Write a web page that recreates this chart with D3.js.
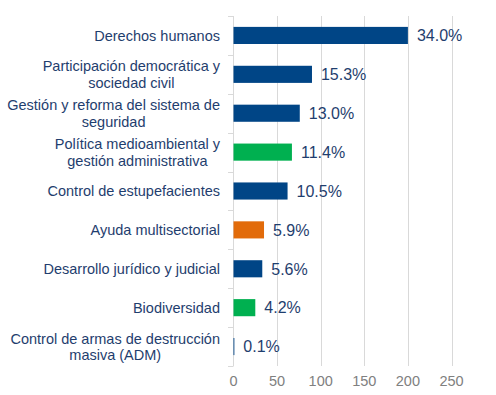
<!DOCTYPE html>
<html>
<head>
<meta charset="utf-8">
<script src="https://cdn.jsdelivr.net/npm/d3@7"></script>
<style>
  html, body { margin: 0; padding: 0; background: #fff; }
  svg { display: block; font-family: "Liberation Sans", Arial, sans-serif; }
</style>
</head>
<body>
<svg id="chart" width="496" height="395"></svg>
<script>
const categories = [
  ["Derechos humanos"],
  ["Participación democrática y", "sociedad civil"],
  ["Gestión y reforma del sistema de", "seguridad"],
  ["Política medioambiental y", "gestión administrativa"],
  ["Control de estupefacientes"],
  ["Ayuda multisectorial"],
  ["Desarrollo jurídico y judicial"],
  ["Biodiversidad"],
  ["Control de armas de destrucción", "masiva (ADM)"]
];
const values = [200, 90, 76, 67, 62, 35, 33, 25, 1];
const valueLabels = ["34.0%", "15.3%", "13.0%", "11.4%", "10.5%", "5.9%", "5.6%", "4.2%", "0.1%"];
const groups = ["blue", "blue", "blue", "green", "blue", "orange", "blue", "green", "blue"];
const xTicks = [0, 50, 100, 150, 200, 250];

(function () {
const colors = { blue: "#004586", green: "#00b050", orange: "#e26b0a" };
const textColor = "#1f3e6e";

const svg = d3.select("#chart");
const pLeft = 233.5, pRight = 451.5, pTop = 16, pBottom = 366;

const x = d3.scaleLinear().domain([0, 250]).range([pLeft, pRight]);
const y = d3.scaleBand().domain(d3.range(categories.length)).range([pTop, pBottom]).paddingInner(0.56).paddingOuter(0.28);
const band = d3.scaleBand().domain(d3.range(categories.length)).range([pTop, pBottom]);

// gridlines
svg.append("g").selectAll("line").data(xTicks.slice(1)).join("line")
  .attr("x1", d => Math.round(x(d)) + 0.5).attr("x2", d => Math.round(x(d)) + 0.5)
  .attr("y1", pTop).attr("y2", pBottom)
  .attr("stroke", "#d9d9d9").attr("stroke-width", 1);

// x tick labels
svg.append("g").selectAll("text").data(xTicks).join("text")
  .attr("x", d => x(d)).attr("y", 385.5)
  .attr("text-anchor", "middle")
  .attr("font-size", "14.5px").attr("fill", "#808080")
  .text(d => d);

// y axis line and category ticks
svg.append("line").attr("x1", pLeft).attr("x2", pLeft).attr("y1", pTop).attr("y2", pBottom)
  .attr("stroke", "#d9d9d9");
const bounds = d3.range(categories.length + 1).map(i => pTop + i * band.step());
svg.append("g").selectAll("line").data(bounds).join("line")
  .attr("x1", pLeft - 5.5).attr("x2", pLeft)
  .attr("y1", d => Math.round(d) + 0.5).attr("y2", d => Math.round(d) + 0.5)
  .attr("stroke", "#d9d9d9");

// bars
svg.append("g").selectAll("rect").data(values).join("rect")
  .attr("x", x(0))
  .attr("y", (d, i) => y(i))
  .attr("width", d => x(d) - x(0))
  .attr("height", y.bandwidth())
  .attr("fill", (d, i) => colors[groups[i]]);

// value labels
svg.append("g").selectAll("text").data(values).join("text")
  .attr("x", d => x(d) + 9)
  .attr("y", (d, i) => band(i) + band.bandwidth() / 2)
  .attr("dy", "0.36em")
  .attr("font-size", "16px").attr("fill", textColor)
  .text((d, i) => valueLabels[i]);

// category labels
const labelRight = 220;
const lineH = 16.5;
categories.forEach((lines, i) => {
  const cy = band(i) + band.bandwidth() / 2;
  const t = svg.append("text")
    .attr("font-size", "14.5px").attr("fill", textColor)
    .attr("text-anchor", "middle");
  const spans = lines.map((ln, j) => t.append("tspan")
    .attr("y", cy + (j - (lines.length - 1) / 2) * lineH)
    .attr("dy", "0.36em")
    .text(ln));
  const maxW = d3.max(spans, s => s.node().getComputedTextLength());
  spans.forEach(s => s.attr("x", labelRight - maxW / 2));
});
})();
</script>
</body>
</html>
